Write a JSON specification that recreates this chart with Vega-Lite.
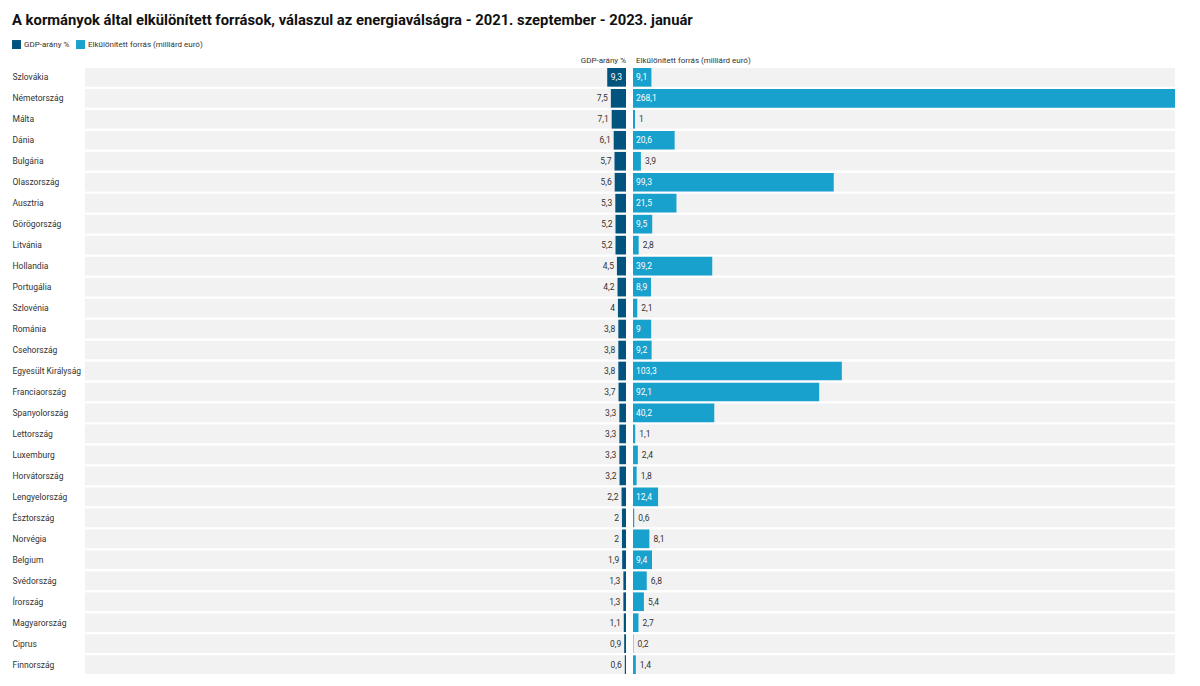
{
  "$schema": "https://vega.github.io/schema/vega-lite/v6.json",
  "background": "white",
  "padding": {"left": 12, "top": 13, "right": 25, "bottom": 13},
  "title": {"text": "A kormányok által elkülönített források, válaszul az energiaválságra - 2021. szeptember - 2023. január", "anchor": "start", "fontSize": 14.8, "fontWeight": "bold", "font": "Roboto", "color": "#111111", "offset": 12},
  "data": {"values": [
    {"orszag": "Szlovákia", "gdp": 9.3, "forras": 9.1},
    {"orszag": "Németország", "gdp": 7.5, "forras": 268.1},
    {"orszag": "Málta", "gdp": 7.1, "forras": 1},
    {"orszag": "Dánia", "gdp": 6.1, "forras": 20.6},
    {"orszag": "Bulgária", "gdp": 5.7, "forras": 3.9},
    {"orszag": "Olaszország", "gdp": 5.6, "forras": 99.3},
    {"orszag": "Ausztria", "gdp": 5.3, "forras": 21.5},
    {"orszag": "Görögország", "gdp": 5.2, "forras": 9.5},
    {"orszag": "Litvánia", "gdp": 5.2, "forras": 2.8},
    {"orszag": "Hollandia", "gdp": 4.5, "forras": 39.2},
    {"orszag": "Portugália", "gdp": 4.2, "forras": 8.9},
    {"orszag": "Szlovénia", "gdp": 4, "forras": 2.1},
    {"orszag": "Románia", "gdp": 3.8, "forras": 9},
    {"orszag": "Csehország", "gdp": 3.8, "forras": 9.2},
    {"orszag": "Egyesült Királyság", "gdp": 3.8, "forras": 103.3},
    {"orszag": "Franciaország", "gdp": 3.7, "forras": 92.1},
    {"orszag": "Spanyolország", "gdp": 3.3, "forras": 40.2},
    {"orszag": "Lettország", "gdp": 3.3, "forras": 1.1},
    {"orszag": "Luxemburg", "gdp": 3.3, "forras": 2.4},
    {"orszag": "Horvátország", "gdp": 3.2, "forras": 1.8},
    {"orszag": "Lengyelország", "gdp": 2.2, "forras": 12.4},
    {"orszag": "Észtország", "gdp": 2, "forras": 0.6},
    {"orszag": "Norvégia", "gdp": 2, "forras": 8.1},
    {"orszag": "Belgium", "gdp": 1.9, "forras": 9.4},
    {"orszag": "Svédország", "gdp": 1.3, "forras": 6.8},
    {"orszag": "Írország", "gdp": 1.3, "forras": 5.4},
    {"orszag": "Magyarország", "gdp": 1.1, "forras": 2.7},
    {"orszag": "Ciprus", "gdp": 0.9, "forras": 0.2},
    {"orszag": "Finnország", "gdp": 0.6, "forras": 1.4}
  ]},
  "spacing": 7,
  "resolve": {"scale": {"x": "independent", "color": "shared"}, "legend": {"color": "shared"}},
  "hconcat": [
    {
      "width": 541,
      "height": 606,
      "title": {"text": "GDP-arány %", "anchor": "end", "fontSize": 8, "fontWeight": "normal", "color": "#333333", "font": "Roboto", "offset": 3},
      "encoding": {
        "y": {"field": "orszag", "type": "nominal", "sort": null,
          "scale": {"paddingInner": 0.11, "paddingOuter": 0},
          "axis": {"title": null, "ticks": false, "tickSize": 0, "domain": false, "grid": false, "labelAlign": "left", "labelPadding": 73, "labelFontSize": 8.5, "labelColor": "#333333", "labelFont": "Roboto", "labelLimit": 120}}
      },
      "layer": [
        {"mark": {"type": "bar", "color": "#f2f2f2"},
         "encoding": {"x": {"datum": 0, "type": "quantitative", "scale": {"domain": [0, 268.1], "reverse": true, "nice": false, "zero": true}, "axis": null}, "x2": {"datum": 268.1}}},
        {"mark": {"type": "bar"},
         "encoding": {"x": {"field": "gdp", "type": "quantitative", "axis": null},
           "color": {"datum": "GDP-arány %", "type": "nominal",
             "scale": {"domain": ["GDP-arány %", "Elkülönített forrás (milliárd euró)"], "range": ["#02537e", "#18a1cd"]},
             "legend": {"title": null, "orient": "none", "legendX": -73, "legendY": -28, "direction": "horizontal", "symbolType": "square", "symbolSize": 80, "symbolStrokeWidth": 0, "labelFontSize": 8, "labelColor": "#333333", "labelFont": "Roboto", "columnPadding": 6, "labelOffset": 3, "padding": 0}}}},
        {"transform": [{"filter": "datum.gdp >= 8.5"}],
         "mark": {"type": "text", "align": "right", "baseline": "middle", "dx": -4, "color": "white", "fontSize": 8.5, "font": "Roboto"},
         "encoding": {"x": {"datum": 0, "type": "quantitative"}, "text": {"field": "gdp", "type": "quantitative", "format": ".1~f"}}},
        {"transform": [{"filter": "datum.gdp < 8.5"}],
         "mark": {"type": "text", "align": "right", "baseline": "middle", "dx": -3, "color": "#333333", "fontSize": 8.5, "font": "Roboto"},
         "encoding": {"x": {"field": "gdp", "type": "quantitative"}, "text": {"field": "gdp", "type": "quantitative", "format": ".1~f"}}}
      ]
    },
    {
      "width": 542,
      "height": 606,
      "title": {"text": "Elkülönített forrás (milliárd euró)", "anchor": "start", "fontSize": 8, "fontWeight": "normal", "color": "#333333", "font": "Roboto", "offset": 3, "dx": 3},
      "encoding": {
        "y": {"field": "orszag", "type": "nominal", "sort": null,
          "scale": {"paddingInner": 0.11, "paddingOuter": 0}, "axis": null}
      },
      "layer": [
        {"mark": {"type": "bar", "color": "#f2f2f2"},
         "encoding": {"x": {"datum": 0, "type": "quantitative", "scale": {"domain": [0, 268.1], "nice": false, "zero": true}, "axis": null}, "x2": {"datum": 268.1}}},
        {"mark": {"type": "bar"},
         "encoding": {"x": {"field": "forras", "type": "quantitative", "axis": null},
           "color": {"datum": "Elkülönített forrás (milliárd euró)", "type": "nominal"}}},
        {"transform": [{"filter": "datum.forras >= 8.5"}],
         "mark": {"type": "text", "align": "left", "baseline": "middle", "dx": 3, "color": "white", "fontSize": 8.5, "font": "Roboto"},
         "encoding": {"x": {"datum": 0, "type": "quantitative"}, "text": {"field": "forras", "type": "quantitative", "format": ".1~f"}}},
        {"transform": [{"filter": "datum.forras < 8.5"}],
         "mark": {"type": "text", "align": "left", "baseline": "middle", "dx": 4, "color": "#333333", "fontSize": 8.5, "font": "Roboto"},
         "encoding": {"x": {"field": "forras", "type": "quantitative"}, "text": {"field": "forras", "type": "quantitative", "format": ".1~f"}}}
      ]
    }
  ],
  "config": {
    "font": "Roboto",
    "view": {"stroke": null},
    "locale": {"number": {"decimal": ",", "thousands": " ", "grouping": [3], "currency": ["", ""]}}
  }
}
